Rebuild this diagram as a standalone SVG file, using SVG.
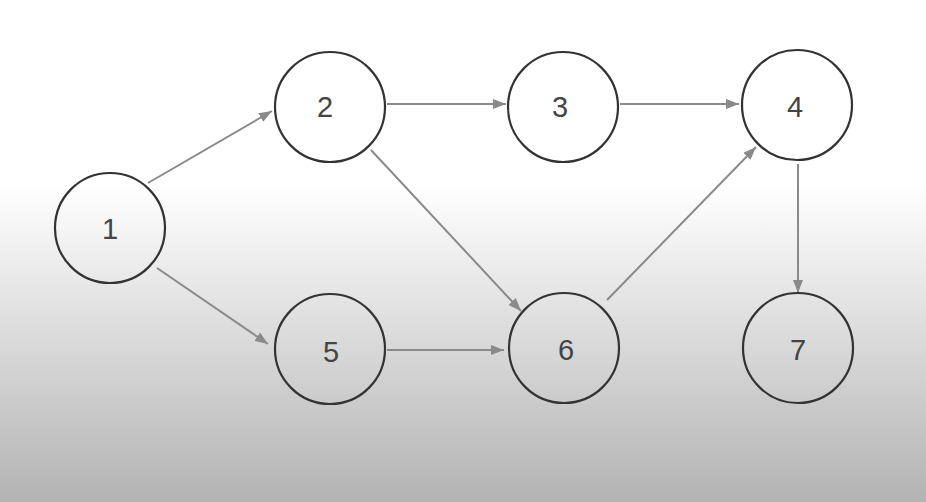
<svg xmlns="http://www.w3.org/2000/svg" width="926" height="502" viewBox="0 0 926 502">
<defs>
<linearGradient id="bg" x1="0" y1="185" x2="0" y2="502" gradientUnits="userSpaceOnUse">
<stop offset="0" stop-color="#ffffff"/>
<stop offset="0.2" stop-color="#f0f0f0"/>
<stop offset="1" stop-color="#b3b3b3"/>
</linearGradient>
<marker id="ah" viewBox="0 0 13 10" refX="13" refY="5" markerWidth="13" markerHeight="10" orient="auto" markerUnits="userSpaceOnUse">
<path d="M0,0 L13,5 L0,10 z" fill="#8a8a8a"/>
</marker>
<style>
.node circle{fill:none;stroke:#333;stroke-width:2.2}
.node text{font-family:"Liberation Sans",Arial,sans-serif;font-size:29px;fill:#444;text-anchor:middle;dominant-baseline:central}
#edges line{stroke:#8a8a8a;stroke-width:2;marker-end:url(#ah)}
</style>
</defs>
<rect width="926" height="502" fill="url(#bg)"/>
<g id="edges">
<line x1="148" y1="183" x2="272" y2="111"/>
<line x1="157" y1="268" x2="268" y2="344"/>
<line x1="387" y1="104" x2="506" y2="104"/>
<line x1="371" y1="150" x2="521" y2="311"/>
<line x1="620" y1="104" x2="739" y2="104"/>
<line x1="607" y1="300" x2="756" y2="147"/>
<line x1="387" y1="350" x2="504" y2="350"/>
<line x1="798" y1="164" x2="798" y2="293"/>
</g>
<g id="n1" class="node"><circle cx="110" cy="228" r="55"/><text x="110" y="229">1</text></g>
<g id="n2" class="node"><circle cx="330" cy="107" r="55"/><text x="325" y="107">2</text></g>
<g id="n3" class="node"><circle cx="563" cy="107" r="55"/><text x="560" y="107">3</text></g>
<g id="n4" class="node"><circle cx="797" cy="105" r="55"/><text x="795" y="107">4</text></g>
<g id="n5" class="node"><circle cx="330" cy="349" r="55"/><text x="331" y="352">5</text></g>
<g id="n6" class="node"><circle cx="564" cy="348" r="55"/><text x="566" y="350">6</text></g>
<g id="n7" class="node"><circle cx="798" cy="348" r="55"/><text x="798" y="350">7</text></g>
</svg>
